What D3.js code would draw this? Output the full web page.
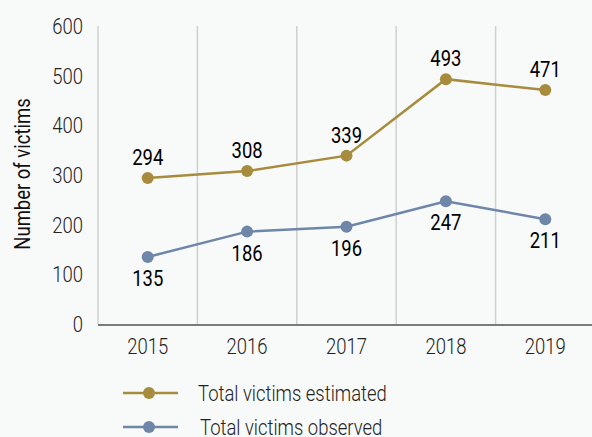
<!DOCTYPE html>
<html><head><meta charset="utf-8">
<script src="https://cdn.jsdelivr.net/npm/d3@7"></script>
<style>
html,body{margin:0;padding:0;background:#f8f9f9;}
svg{display:block;font-family:Roboto,sans-serif;}
</style></head><body>
<svg id="c" width="592" height="437"></svg>
<script>
const years = ["2015","2016","2017","2018","2019"];
const estimated = [294, 308, 339, 493, 471];
const observed = [135, 186, 196, 247, 211];
const yTicks = [0,100,200,300,400,500,600];
const seriesNames = ["Total victims estimated","Total victims observed"];
const colors = ["#a68c3c","#6e86a8"];
const SX = 0.84; // horizontal condensing

const svg = d3.select("#c");
const x = d3.scaleBand().domain(years).range([98, 595]);
const y = d3.scaleLinear().domain([0,600]).range([324, 26]);

function label(sel){
  return sel.attr("transform", d => `translate(${d.x},${d.y}) scale(${SX},1)`);
}

// vertical gridlines
const bounds = years.map(d => x(d));
svg.append("g").selectAll("line").data(bounds).join("line")
  .attr("x1", d=>d).attr("x2", d=>d).attr("y1", y(600)).attr("y2", y(0))
  .attr("stroke","#d0d0d0").attr("stroke-width",1.5);

// bottom axis line
svg.append("line").attr("x1",98).attr("x2",595).attr("y1",y(0)+1).attr("y2",y(0)+1)
  .attr("stroke","#7a7a7a").attr("stroke-width",2);

// y tick labels
label(svg.append("g").selectAll("text").data(yTicks.map(v=>({v, x:83, y:y(v)}))).join("text"))
  .attr("dy","0.36em").attr("text-anchor","end")
  .attr("font-size",22).attr("font-weight",300).attr("fill","#222").text(d=>d.v);

// x tick labels
label(svg.append("g").selectAll("text").data(years.map(v=>({v, x:x(v)+x.bandwidth()/2, y:346}))).join("text"))
  .attr("dy","0.36em").attr("text-anchor","middle")
  .attr("font-size",22).attr("font-weight",300).attr("fill","#222").text(d=>d.v);

// y axis title
svg.append("text").attr("transform",`translate(22,174) rotate(-90) scale(${SX},1)`).attr("text-anchor","middle")
  .attr("dy","0.36em").attr("font-size",22).attr("font-weight",400).attr("fill","#111").text("Number of victims");

const cx = d => x(d)+x.bandwidth()/2;
const line = d3.line().x(d=>cx(d[0])).y(d=>y(d[1]));
[estimated, observed].forEach((vals,i)=>{
  const pts = years.map((yr,j)=>[yr, vals[j]]);
  svg.append("path").datum(pts).attr("d",line).attr("fill","none")
    .attr("stroke",colors[i]).attr("stroke-width",2.5);
  svg.append("g").selectAll("circle").data(pts).join("circle")
    .attr("cx",d=>cx(d[0])).attr("cy",d=>y(d[1])).attr("r",6).attr("fill",colors[i]);
  label(svg.append("g").selectAll("text")
    .data(pts.map(p=>({v:p[1], x:cx(p[0]), y:y(p[1]) + (i===0?-21:21)}))).join("text"))
    .attr("dy","0.36em")
    .attr("text-anchor","middle").attr("font-size",22).attr("font-weight",400).attr("fill","#000")
    .text(d=>d.v);
});

// legend
const lg = svg.append("g");
seriesNames.forEach((n,i)=>{
  const ly = 393 + i*34;
  lg.append("line").attr("x1",123).attr("x2",178).attr("y1",ly).attr("y2",ly)
    .attr("stroke",colors[i]).attr("stroke-width",2.5);
  lg.append("circle").attr("cx",149).attr("cy",ly).attr("r",6).attr("fill",colors[i]);
  lg.append("text").attr("transform",`translate(${198+i*2},${ly}) scale(${SX},1)`)
    .attr("dy","0.36em").attr("font-size",22).attr("font-weight",300)
    .attr("fill","#222").text(n);
});
</script></body></html>
